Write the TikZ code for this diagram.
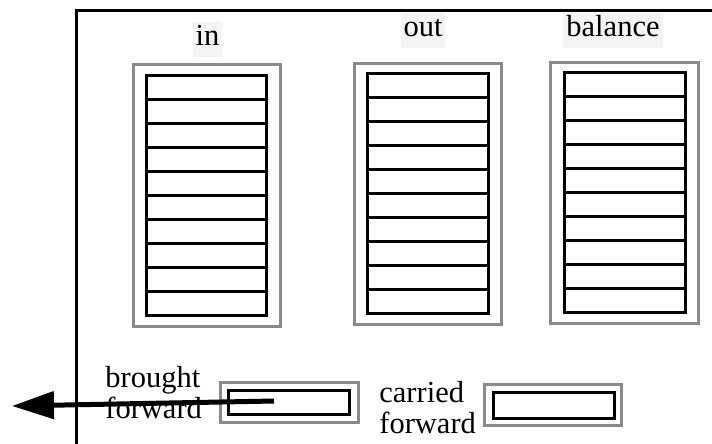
\documentclass[tikz,border=0pt]{standalone}
\usepackage{fontspec}
\newfontfamily\refserif{Liberation Serif}[Scale=1.0]
\usetikzlibrary{arrows.meta}
\definecolor{boxgrey}{HTML}{8A8A8A}
\definecolor{labelbg}{HTML}{F4F4F4}
\begin{document}
\begin{tikzpicture}[x=0.5pt,y=-0.5pt,
  every node/.style={font=\fontsize{15.25}{15.5}\refserif},
  frameline/.style={line width=1.5pt,black},
  outerbox/.style={draw=boxgrey,line width=1.5pt},
  rowbox/.style={draw=black,line width=1.4pt},
  collabel/.style={fill=labelbg,inner xsep=1.5pt,inner ysep=1.5pt,text height=10.5pt,text depth=4pt},
  sidelabel/.style={align=left,inner sep=0pt,anchor=north west},
  bigarrow/.style={line width=2.5pt,-{Triangle[length=21pt,width=13.5pt]}}]
\useasboundingbox (0,0) rectangle (712,444);
% frame (open on right and bottom)
\coordinate (fbl) at (76,444);
\coordinate (ftl) at (76,10.5);
\coordinate (ftr) at (712,10.5);
\draw[frameline] (fbl) -- (ftl) -- (ftr);
% columns
\foreach \name/\ox/\oy/\ow/\oh/\ix/\iy/\iw in {in/132/63/147/262/145/74/120, out/353/62/147/261/366/72/121, bal/549/61/148/261/563/71/121}{
  \node[outerbox,minimum width=\ow*0.5pt,minimum height=\oh*0.5pt,inner sep=0pt,anchor=north west] (\name-outer) at (\ox,\oy) {};
  \foreach \r in {0,...,9}{
    \node[rowbox,minimum width=\iw*0.5pt,minimum height=12pt,inner sep=0pt,anchor=north west] (\name-row\r) at (\ix,{\iy+24*\r}) {};
  }
}
% column labels
\node[collabel] (lin) at (207.5,39.5) {in};
\node[collabel] (lout) at (423,30.5) {out};
\node[collabel] (lbal) at (613,30.5) {balance};
% brought forward
\node[outerbox,minimum width=69pt,minimum height=20pt,inner sep=0pt,anchor=north west] (bf-outer) at (219,381) {};
\node[rowbox,minimum width=60.5pt,minimum height=12pt,inner sep=0pt,anchor=north west] (bf-inner) at (227,389) {};
\node[sidelabel] (bf-text) at (105,366) {brought\\forward};
% carried forward
\node[outerbox,minimum width=68.5pt,minimum height=20.5pt,inner sep=0pt,anchor=north west] (cf-outer) at (483,383) {};
\node[rowbox,minimum width=60.5pt,minimum height=13pt,inner sep=0pt,anchor=north west] (cf-inner) at (492,391) {};
\node[sidelabel] (cf-text) at (379,381) {carried\\forward};
% arrow
\coordinate (arrstart) at (274,401);
\coordinate (arrend) at (12,406);
\draw[bigarrow] (arrstart) -- (arrend);
\end{tikzpicture}
\end{document}
